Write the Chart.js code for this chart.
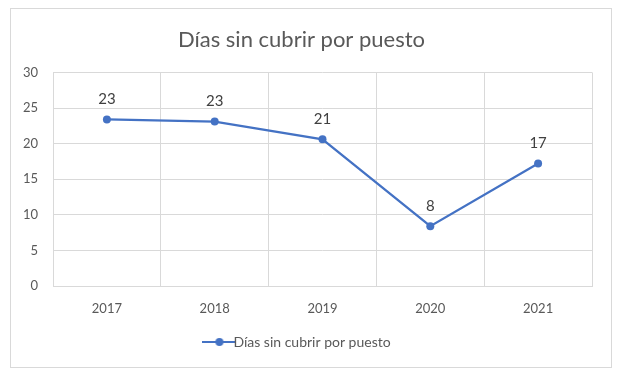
<!DOCTYPE html>
<html>
<head>
<meta charset="utf-8">
<script src="https://cdn.jsdelivr.net/npm/chart.js@4"></script>
<style>
  html, body { margin: 0; padding: 0; background: #fff; }
  #wrap { width: 630px; height: 377px; position: relative; }
</style>
</head>
<body>
<div id="wrap"><canvas id="chart1"></canvas></div>
<script>
const years = ['2017', '2018', '2019', '2020', '2021'];
const dias = [23.4, 23.1, 20.6, 8.4, 17.2];
const yTicks = [0, 5, 10, 15, 20, 25, 30];
const serieName = 'Días sin cubrir por puesto';

const blue = '#4472C4';
const gridColor = '#d9d9d9';
const textColor = '#595959';
const font = 'Lato';

// legend marker: line with a dot in the middle
const marker = document.createElement('canvas');
marker.width = 34;
marker.height = 10;
const mctx = marker.getContext('2d');
mctx.strokeStyle = blue;
mctx.lineWidth = 2;
mctx.beginPath();
mctx.moveTo(0, 5);
mctx.lineTo(34, 5);
mctx.stroke();
mctx.fillStyle = blue;
mctx.beginPath();
mctx.arc(17, 5, 4, 0, Math.PI * 2);
mctx.fill();

const frame = {
    id: 'frame',
    beforeDraw(chart) {
        const c = chart.ctx;
        c.save();
        c.fillStyle = '#fff';
        c.fillRect(0, 0, chart.width, chart.height);
        c.strokeStyle = gridColor;
        c.lineWidth = 1;
        c.strokeRect(10.5, 8.5, 601, 359);
        c.restore();
    }
};

const pointLabels = {
    id: 'pointLabels',
    afterDatasetsDraw(chart) {
        const c = chart.ctx;
        const meta = chart.getDatasetMeta(0);
        c.save();
        c.font = '15px ' + font;
        c.fillStyle = '#404040';
        c.textAlign = 'center';
        c.textBaseline = 'middle';
        meta.data.forEach((pt, i) => {
            c.fillText(Math.round(dias[i]), pt.x, pt.y - 20);
        });
        c.restore();
    }
};

new Chart(document.getElementById('chart1'), {
    type: 'line',
    data: {
        labels: years,
        datasets: [{
            label: serieName,
            data: dias,
            borderColor: blue,
            backgroundColor: blue,
            borderWidth: 2.25,
            pointRadius: 4,
            pointBackgroundColor: blue,
            pointBorderWidth: 0,
            pointStyle: 'circle',
            tension: 0
        }]
    },
    options: {
        responsive: true,
        maintainAspectRatio: false,
        animation: false,
        layout: { padding: { left: 11, right: 38, top: 8, bottom: 18 } },
        plugins: {
            title: {
                display: true,
                text: serieName,
                color: textColor,
                font: { family: font, size: 22, weight: 'normal' },
                padding: { top: 19, bottom: 19 }
            },
            legend: {
                position: 'bottom',
                labels: {
                    usePointStyle: true,
                    pointStyle: marker,
                    color: textColor,
                    font: { family: font, size: 14 },
                    padding: 19
                }
            },
            tooltip: { enabled: false }
        },
        scales: {
            x: {
                offset: true,
                grid: { offset: true, color: gridColor, drawTicks: false },
                border: { color: gridColor },
                ticks: { color: textColor, font: { family: font, size: 13 }, padding: 15 },
                afterFit(scale) { scale.height = 30; }
            },
            y: {
                min: 0,
                max: 30,
                afterBuildTicks(scale) { scale.ticks = yTicks.map(v => ({ value: v })); },
                grid: { color: gridColor, drawTicks: false },
                border: { display: false },
                ticks: { color: textColor, font: { family: font, size: 13 }, padding: 15 },
                afterFit(scale) { scale.width = 42; }
            }
        }
    },
    plugins: [frame, pointLabels]
});
</script>
</body>
</html>
